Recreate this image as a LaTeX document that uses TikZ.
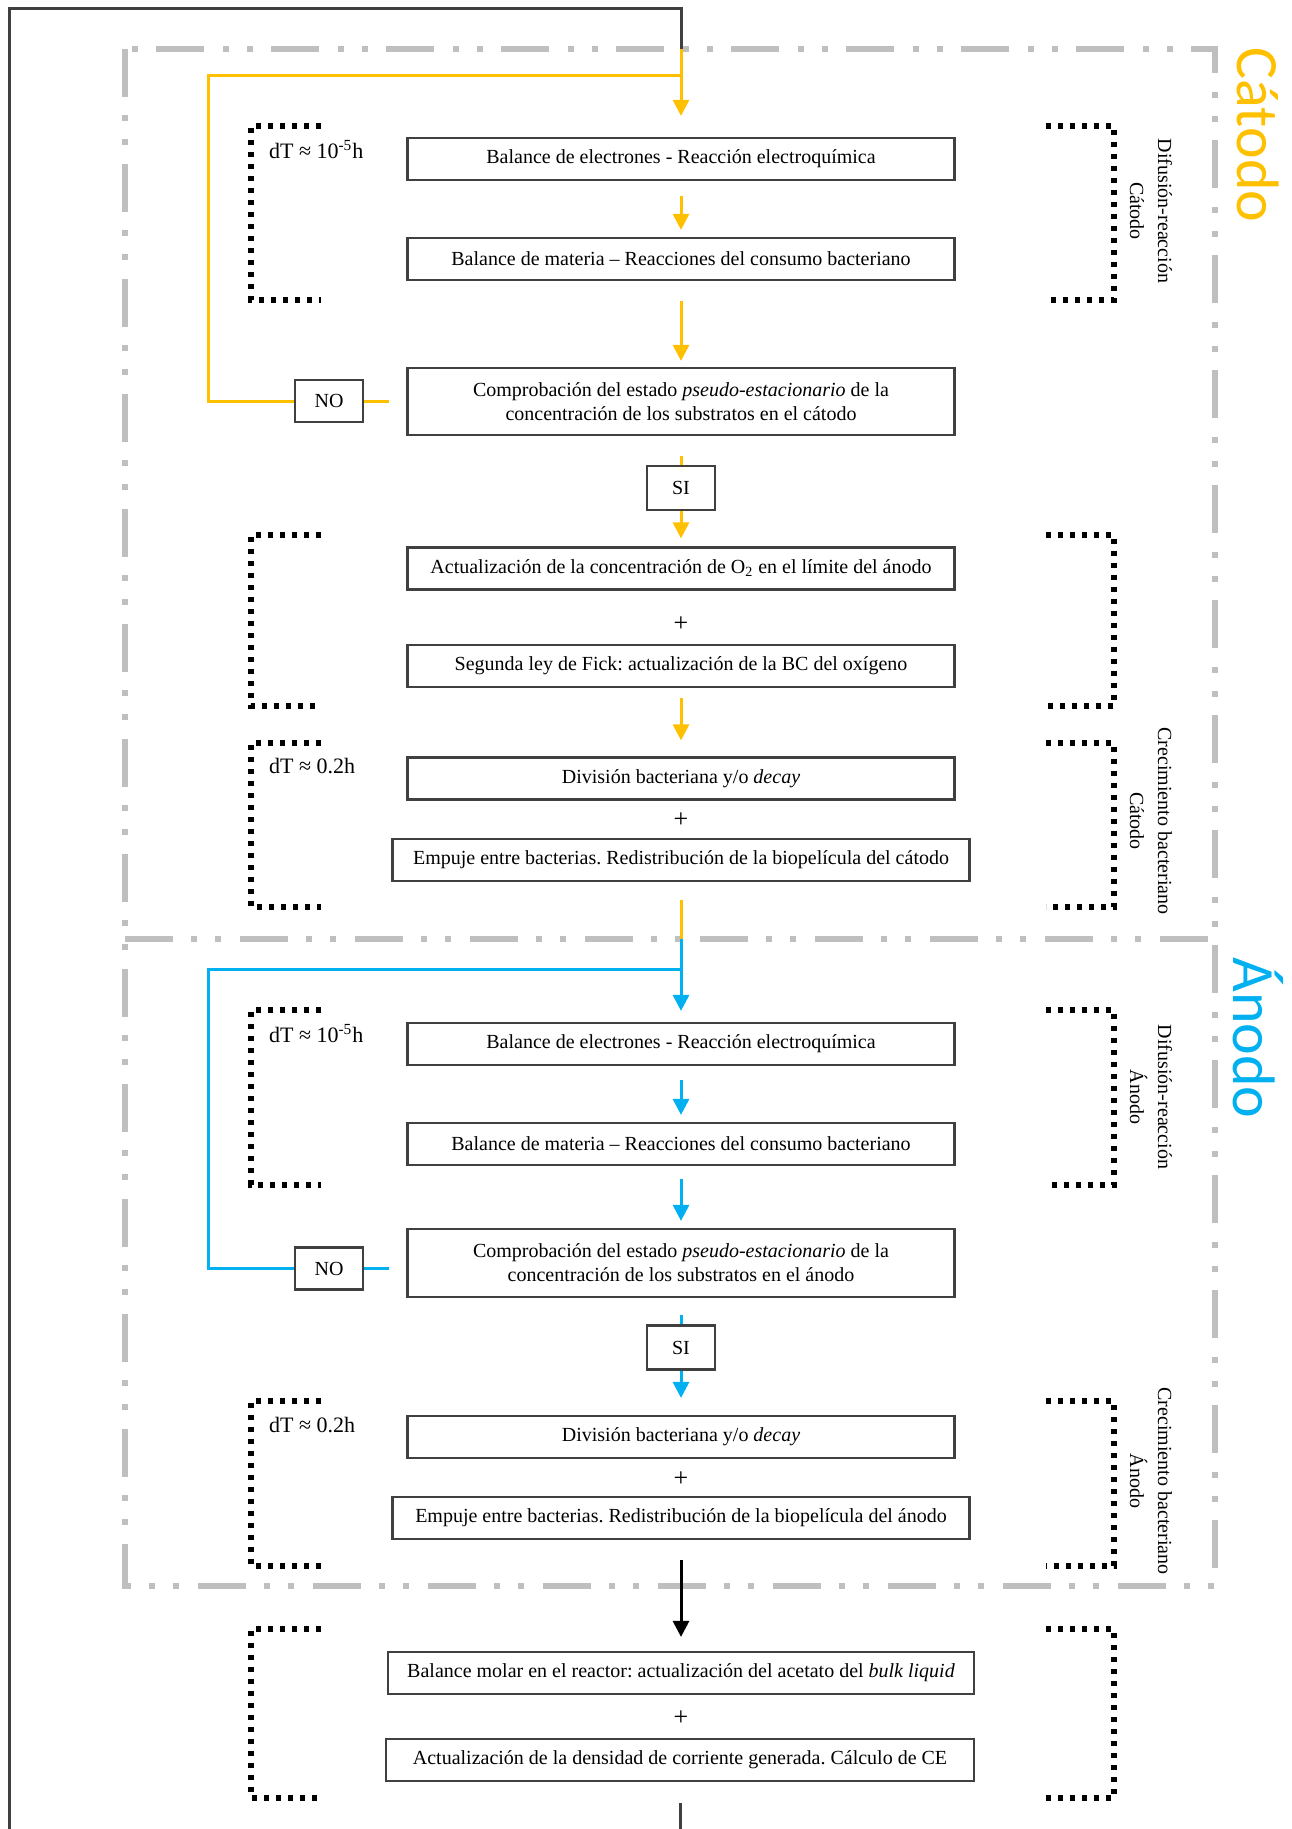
\documentclass[tikz,border=0pt]{standalone}
\usepackage{fontspec}
\setmainfont{Liberation Serif}
\newfontfamily\zonefont{Carlito}
\usetikzlibrary{arrows.meta}
\definecolor{catcol}{HTML}{FFC000}
\definecolor{ancol}{HTML}{00B0F0}
\definecolor{zonecol}{HTML}{BFBFBF}
\definecolor{boxcol}{HTML}{404040}
\frenchspacing

\begin{document}
\begin{tikzpicture}[x=0.5pt, y=-0.5pt,
    every node/.style={font=\fontsize{10}{12}\selectfont},
    procbox/.style={draw=boxcol, line width=1.1pt, fill=white, minimum width=273.5pt, minimum height=21pt, inner sep=1pt, align=center},
    widebox/.style={procbox, minimum width=288.5pt},
    tinybox/.style={draw=boxcol, line width=1.1pt, fill=white, minimum width=34pt, minimum height=21pt, inner sep=1pt},
    plus/.style={font=\fontsize{13}{15}\selectfont},
    cline/.style={draw=catcol, line width=1.5pt},
    aline/.style={draw=ancol, line width=1.5pt},
    kline/.style={draw=boxcol, line width=1.5pt},
    arr/.style={-{Triangle[width=8pt,length=8pt]}},
    zone/.style={draw=zonecol, line width=2.8pt, dash pattern=on 24pt off 9pt on 3pt off 9pt on 3pt off 9.5pt},
    dtbracket/.style={line width=2.6pt, dash pattern=on 2.7pt off 3.3pt},
    sidelabel/.style={rotate=-90, align=center, font=\fontsize{10}{14}\selectfont},
    dtlabel/.style={anchor=west, font=\fontsize{11}{13}\selectfont},
    zonename/.style={rotate=-90, font=\zonefont\fontsize{30}{36}\selectfont}]
    \useasboundingbox (0,0) rectangle (1291,1829);
    % Cátodo / Ánodo frames
    \draw[zone] (125,49) rectangle (1215,1586);
    \draw[zone] (125,939) -- (1215,939);
    \node[zonename, text=catcol] (cname) at (1258,135) {Cátodo};
    \node[zonename, text=ancol] (aname) at (1258,1038) {Ánodo};
    % dotted brackets
    \foreach \t/\b in {126/300, 535/706, 743/907, 1010/1185, 1401/1566, 1629/1798} {
      \draw[dtbracket] (321,\t) -| (251,\b) -- (321,\b);
      \draw[dtbracket] (1046,\t) -| (1114,\b) -- (1046,\b);
    }
    \node[dtlabel] (cdta) at (262,150) {dT ≈ 10\textsuperscript{-5}h};
    \node[dtlabel] (cdtb) at (262,766) {dT ≈ 0.2h};
    \node[dtlabel] (adta) at (262,1034) {dT ≈ 10\textsuperscript{-5}h};
    \node[dtlabel] (adtb) at (262,1425) {dT ≈ 0.2h};
    \node[sidelabel] (csidea) at (1151,211) {Difusión-reacción\\Cátodo};
    \node[sidelabel] (csideb) at (1151,821) {Crecimiento bacteriano\\Cátodo};
    \node[sidelabel] (asidea) at (1151,1097) {Difusión-reacción\\Ánodo};
    \node[sidelabel] (asideb) at (1151,1481) {Crecimiento bacteriano\\Ánodo};
    % cathode steps
    \node[procbox] (c1) at (681,159) {Balance de electrones - Reacción electroquímica};
    \node[procbox] (c2) at (681,259) {Balance de materia – Reacciones del consumo bacteriano};
    \node[procbox, minimum height=33.5pt] (c3) at (681,401.5) {Comprobación del estado \textit{pseudo-estacionario} de la\\concentración de los substratos en el cátodo};
    \node[tinybox] (cno) at (329,401) {NO};
    \node[tinybox, minimum height=22pt] (csi) at (681,488) {SI};
    \node[procbox] (c4) at (681,568.5) {Actualización de la concentración de O\textsubscript{2} en el límite del ánodo};
    \node[plus] (cplusa) at (681,624) {+};
    \node[procbox] (c5) at (681,666) {Segunda ley de Fick: actualización de la BC del oxígeno};
    \node[procbox] (c6) at (681,778.5) {División bacteriana y/o \textit{decay}};
    \node[plus] (cplusb) at (681,820) {+};
    \node[widebox] (c7) at (681,860) {Empuje entre bacterias. Redistribución de la biopelícula del cátodo};
    % anode steps
    \node[procbox] (a1) at (681,1044) {Balance de electrones - Reacción electroquímica};
    \node[procbox] (a2) at (681,1144) {Balance de materia – Reacciones del consumo bacteriano};
    \node[procbox, minimum height=34pt] (a3) at (681,1263) {Comprobación del estado \textit{pseudo-estacionario} de la\\concentración de los substratos en el ánodo};
    \node[tinybox] (ano) at (329,1268.5) {NO};
    \node[tinybox, minimum height=22pt] (asi) at (681,1347.5) {SI};
    \node[procbox] (a4) at (681,1437) {División bacteriana y/o \textit{decay}};
    \node[plus] (aplus) at (681,1479) {+};
    \node[widebox] (a5) at (681,1518) {Empuje entre bacterias. Redistribución de la biopelícula del ánodo};
    % reactor steps
    \node[procbox, minimum width=293pt] (b1) at (681,1673) {Balance molar en el reactor: actualización del acetato del \textit{bulk liquid}};
    \node[plus] (bplus) at (681,1718) {+};
    \node[procbox, minimum width=294pt] (b2) at (680,1760) {Actualización de la densidad de corriente generada. Cálculo de CE};
    % loop points
    \coordinate (cin) at (681,49);
    \coordinate (cjoin) at (681,76);
    \coordinate (cturn) at (208,76);
    \coordinate (mid) at (681,939);
    \coordinate (ajoin) at (681,969);
    \coordinate (aturn) at (208,969);
    \coordinate (kbot) at (680,1829);
    \coordinate (kleft) at (9,1829);
    \coordinate (ktopl) at (9,9);
    \coordinate (ktopr) at (681,9);
    % cathode connectors
    \draw[cline, arr, shorten >=10.5pt] (cin) -- (c1.north);
    \draw[cline, arr, shorten <=7.5pt, shorten >=3.5pt] (c1.south) -- (c2.north);
    \draw[cline, arr, shorten <=10pt, shorten >=3pt] (c2.south) -- (c3.north);
    \draw[cline, shorten <=10pt] (c3.south) -- (csi.north);
    \draw[cline, arr, shorten >=4pt] (csi.south) -- (c4.north);
    \draw[cline, arr, shorten <=5pt, shorten >=8pt] (c5.south) -- (c6.north);
    \draw[cline, shorten <=9pt] (c7.south) -- (mid);
    \draw[cline, shorten >=8.5pt] (cno.east) -- (cno.east -| c3.west);
    \draw[cline] (cno.west) -| (cturn) -- (cjoin);
    % anode connectors
    \draw[aline, arr, shorten >=5.5pt] (mid) -- (a1.north);
    \draw[aline, arr, shorten <=7pt, shorten >=3.5pt] (a1.south) -- (a2.north);
    \draw[aline, arr, shorten <=6.5pt, shorten >=3.5pt] (a2.south) -- (a3.north);
    \draw[aline, shorten <=8.5pt] (a3.south) -- (asi.north);
    \draw[aline, arr, shorten >=8.5pt] (asi.south) -- (a4.north);
    \draw[aline, shorten >=8.5pt] (ano.east) -- (ano.east -| a3.west);
    \draw[aline] (ano.west) -| (aturn) -- (ajoin);
    % reactor and return loop
    \draw[kline, arr, black, shorten <=10pt, shorten >=7pt] (a5.south) -- (b1.north);
    \draw[kline, shorten <=10.5pt] (b2.south) -- (kbot);
    \draw[kline] (kleft) -- (ktopl) -- (ktopr) -- (cin);
\end{tikzpicture}
\end{document}
